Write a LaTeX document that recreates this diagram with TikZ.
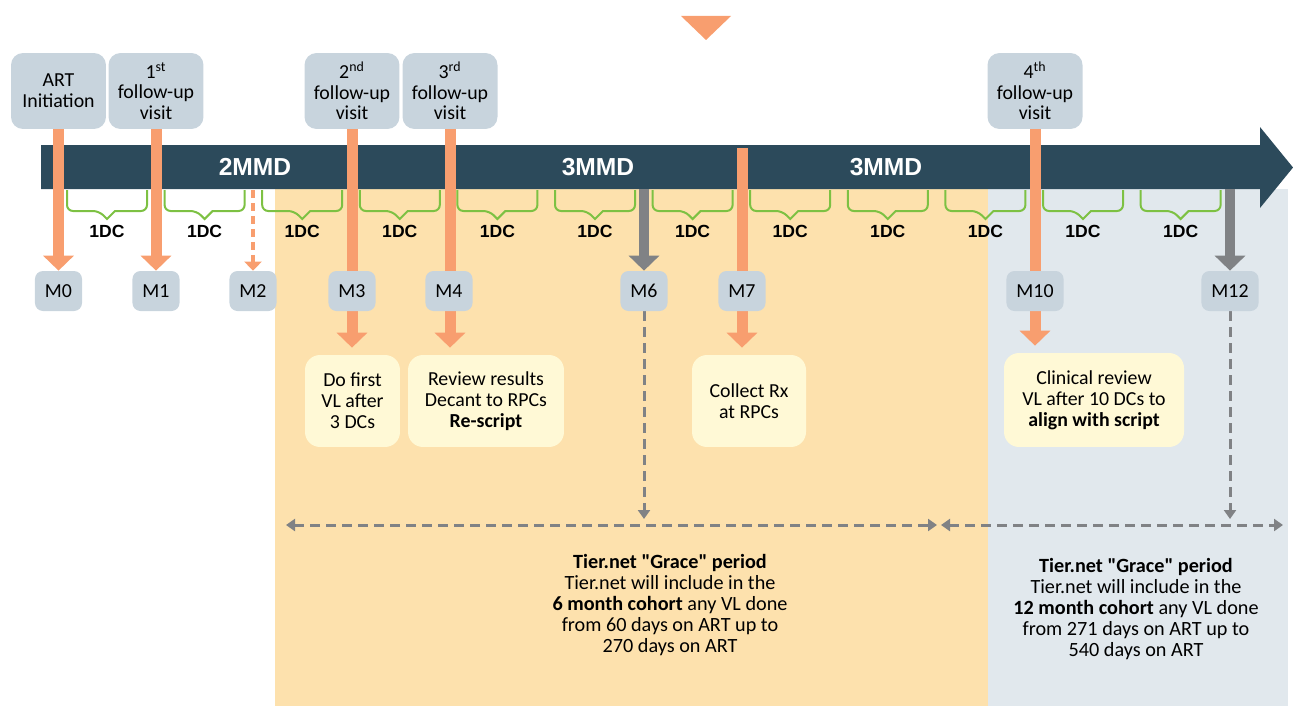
\documentclass[tikz,border=0pt]{standalone}
\usepackage{fontspec}
\setmainfont{Carlito}
\newfontfamily\arialfont{Liberation Sans}
\usepackage{tikz}
\usetikzlibrary{arrows.meta,positioning,calc}
\definecolor{slate}{RGB}{44,74,91}
\definecolor{salmon}{RGB}{248,158,111}
\definecolor{steel}{RGB}{200,212,221}
\definecolor{cream}{RGB}{255,249,214}
\definecolor{sand}{RGB}{253,225,173}
\definecolor{mist}{RGB}{225,232,237}
\definecolor{leaf}{RGB}{125,193,67}
\definecolor{ash}{RGB}{128,130,133}
\pgfdeclarelayer{back}
\pgfdeclarelayer{mid}
\pgfsetlayers{back,mid,main}
\tikzset{
  visit/.style={fill=steel,rounded corners=0.24cm,minimum width=1.9cm,minimum height=1.52cm,inner sep=0pt,align=center,font=\fontsize{11.3}{11.8}\selectfont},
  month/.style={fill=steel,rounded corners=0.16cm,minimum width=0.86cm,minimum height=0.8cm,inner xsep=0.2cm,font=\fontsize{11.3}{12}\selectfont},
  task/.style={fill=cream,rounded corners=0.3cm,minimum height=1.84cm,inner sep=0pt,align=center,font=\fontsize{11.3}{11.9}\selectfont},
  note/.style={align=center,font=\fontsize{11.5}{11.9}\selectfont},
  dclabel/.style={font=\arialfont\bfseries\fontsize{10}{12}\selectfont},
  mmd/.style={text=white,font=\arialfont\bfseries\fontsize{14}{16}\selectfont},
  brace/.style={draw=leaf,line width=0.04cm},
  visitarrow/.style={draw=salmon,line width=0.22cm,-{Triangle[width=0.6cm,length=0.3cm]}},
  grayarrow/.style={draw=ash,line width=0.2cm,-{Triangle[width=0.6cm,length=0.3cm]}},
  skiparrow/.style={draw=salmon,line width=0.08cm,dash pattern=on 0.16cm off 0.1cm,-{Triangle[width=0.34cm,length=0.18cm]}},
  graceline/.style={draw=ash,line width=0.06cm,dash pattern=on 0.2cm off 0.12cm},
  gracetip/.style={-{Triangle[width=0.24cm,length=0.18cm]}},
  graceboth/.style={{Triangle[width=0.24cm,length=0.18cm]}-{Triangle[width=0.24cm,length=0.18cm]}}
}

\begin{document}
\begin{tikzpicture}[x=0.02cm,y=-0.02cm]
\useasboundingbox (0,0) rectangle (1293,706);

% panels and timeline bar
\begin{pgfonlayer}{back}
\fill[sand] (275,189) rectangle (988,706);
\fill[mist] (988,189) rectangle (1288,706);
\fill[slate] (41,145) -- (1260,145) -- (1260,127) -- (1293,167.5) -- (1260,208) -- (1260,189) -- (41,189) -- cycle;
\end{pgfonlayer}
\fill[salmon] (681,16) -- (731,16) -- (706,40) -- cycle;

\node[mmd] (mmd1) at (255,167) {2MMD};
\node[mmd] (mmd2) at (598,167) {3MMD};
\node[mmd] (mmd3) at (886,167) {3MMD};

% visits
\node[visit] (art) at (58.5,91) {ART\\Initiation};
\node[visit] (fu1) at (156,91) {1\textsuperscript{st}\\follow-up\\visit};
\node[visit] (fu2) at (352,91) {2\textsuperscript{nd}\\follow-up\\visit};
\node[visit] (fu3) at (450,91) {3\textsuperscript{rd}\\follow-up\\visit};
\node[visit] (fu4) at (1035,91) {4\textsuperscript{th}\\follow-up\\visit};

% dispensing cycles
\foreach \k in {1,...,12}{
  \pgfmathsetmacro\l{67+97.6*(\k-1)}
  \pgfmathsetmacro\c{\l+40}
  \pgfmathsetmacro\r{\l+80}
  \draw[brace] (\l,190) [rounded corners=0.12cm] |- (\c-8,211) [sharp corners] -- (\c,219) -- (\c+8,211) [rounded corners=0.12cm] -| (\r,190);
  \node[dclabel] (dc\k) at (\c,231) {1DC};
}

% months
\foreach \n/\x in {0/58.5,1/156,2/253,3/352,4/449,6/644,7/742,10/1035,12/1230}
  \node[month] (m\n) at (\x,291) {M\n};

% actions
\node[task,minimum width=1.9cm] (act3) at (352.5,401) {Do first\\VL after\\3 DCs};
\node[task,minimum width=3.12cm] (act4) at (486,401) {Review results\\Decant to RPCs\\\textbf{Re-script}};
\node[task,minimum width=2.28cm] (act7) at (749,401) {Collect Rx\\at RPCs};
\node[task,minimum width=3.6cm,minimum height=1.88cm] (act10) at (1094,400) {Clinical review\\VL after 10 DCs to\\\textbf{align with script}};

% grace periods
\node[note] (grace6) at (670,605) {\textbf{Tier.net \textquotedbl Grace\textquotedbl\ period}\\Tier.net will include in the\\\textbf{6 month cohort} any VL done\\from 60 days on ART up to\\270 days on ART};
\node[note] (grace12) at (1136,609) {\textbf{Tier.net \textquotedbl Grace\textquotedbl\ period}\\Tier.net will include in the\\\textbf{12 month cohort} any VL done\\from 271 days on ART up to\\540 days on ART};

\coordinate (s2) at (253,190);
\coordinate (s6) at (644,189);
\coordinate (s7) at (742,148);
\coordinate (s12) at (1230,189);
\coordinate (e6) at (644,519);
\coordinate (e12) at (1230,519);
\coordinate (g6a) at (286,525);
\coordinate (g6b) at (937,525);
\coordinate (g12a) at (941,525);
\coordinate (g12b) at (1283,525);

\begin{pgfonlayer}{mid}
\draw[visitarrow] (art.south) -- (m0.north);
\draw[visitarrow] (fu1.south) -- (m1.north);
\draw[skiparrow] (s2) -- (m2.north);
\draw[visitarrow,shorten >=0.14cm] (fu2.south) -- (fu2.south |- act3.north);
\draw[visitarrow,shorten >=0.14cm] (fu3.south) -- (fu3.south |- act4.north);
\draw[visitarrow,shorten >=0.14cm] (s7) -- (s7 |- act7.north);
\draw[visitarrow,shorten >=0.14cm] (fu4.south) -- (fu4.south |- act10.north);
\draw[grayarrow] (s6) -- (m6.north);
\draw[grayarrow] (s12) -- (m12.north);
\draw[graceline,gracetip] (m6.south) -- (e6);
\draw[graceline,gracetip] (m12.south) -- (e12);
\draw[graceline,graceboth] (g6a) -- (g6b);
\draw[graceline,graceboth] (g12a) -- (g12b);
\end{pgfonlayer}
\end{tikzpicture}
\end{document}
